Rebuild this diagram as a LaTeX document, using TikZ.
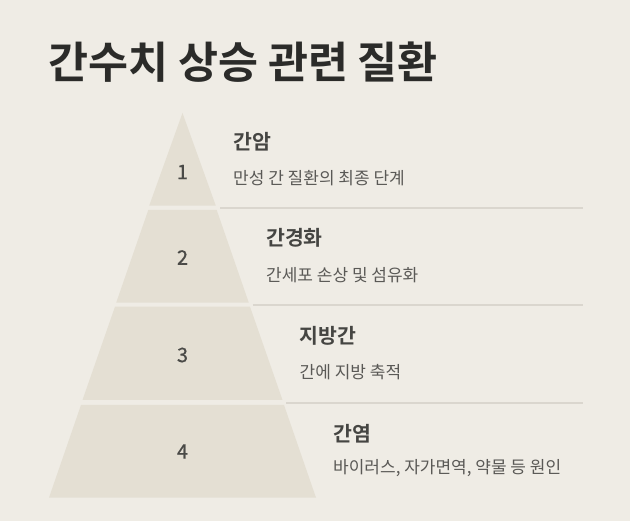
\documentclass[tikz,border=0pt]{standalone}
\usepackage{fontspec}
\setmainfont{Noto Sans CJK KR}[BoldFont={Noto Sans CJK KR Bold}]
\newfontfamily\numfont{Noto Sans CJK KR}[FakeBold=0.6]
\definecolor{bg}{HTML}{EFECE5}
\definecolor{tier}{HTML}{E4DFD3}
\definecolor{sep}{HTML}{DAD6CE}
\definecolor{titlecol}{HTML}{2B2B29}
\definecolor{headcol}{HTML}{454542}
\definecolor{subcol}{HTML}{5A5956}
\definecolor{numcol}{HTML}{4A4A47}
\tikzset{
  tierfill/.style={fill=tier},
  numlabel/.style={font=\fontsize{20}{23}\selectfont\numfont, text=numcol, inner sep=0pt},
  head/.style={font=\fontsize{20.5}{24}\selectfont\bfseries, text=headcol, anchor=west, inner sep=0pt},
  sub/.style={font=\fontsize{17}{20}\selectfont, text=subcol, anchor=west, inner sep=0pt},
  sepline/.style={draw=sep, line width=2pt},
}
\begin{document}
\begin{tikzpicture}[x=1pt,y=-1pt]
\fill[bg] (0,0) rectangle (630,521);
\useasboundingbox (0,0) rectangle (630,521);
% title
\node[font=\fontsize{43.5}{50}\selectfont\bfseries, text=titlecol, anchor=west, inner sep=0pt] (title) at (48,62) {간수치 상승 관련 질환};
% tiers
\def\cx{182.5}
\fill[tierfill] (\cx,113) -- (\cx+33.3,205.7) -- (\cx-33.3,205.7) -- cycle;
\fill[tierfill] (\cx-34.2,210) -- (\cx+34.2,210) -- (\cx+66.3,302.7) -- (\cx-66.3,302.7) -- cycle;
\fill[tierfill] (\cx-67.5,306.7) -- (\cx+67.5,306.7) -- (\cx+100,400) -- (\cx-100,400) -- cycle;
\fill[tierfill] (\cx-101.5,405) -- (\cx+101.5,405) -- (\cx+133.5,497.7) -- (\cx-133.5,497.7) -- cycle;
% numbers
\node[numlabel] (n1) at (\cx,172) {1};
\node[numlabel] (n2) at (\cx,257.5) {2};
\node[numlabel] (n3) at (\cx,355) {3};
\node[numlabel] (n4) at (\cx,451.5) {4};
% separators
\coordinate (s1a) at (220,207.7); \coordinate (s1b) at (582.7,207.7);
\coordinate (s2a) at (252.7,304.7); \coordinate (s2b) at (582.7,304.7);
\coordinate (s3a) at (286,402.7); \coordinate (s3b) at (582.7,402.7);
\draw[sepline] (s1a) -- (s1b);
\draw[sepline] (s2a) -- (s2b);
\draw[sepline] (s3a) -- (s3b);
% labels
\node[head] (h1) at (233,141.7) {간암};
\node[sub] (d1) at (233,178.3) {만성 간 질환의 최종 단계};
\node[head] (h2) at (266,238.3) {간경화};
\node[sub] (d2) at (266,275) {간세포 손상 및 섬유화};
\node[head] (h3) at (299.5,336) {지방간};
\node[sub] (d3) at (299.5,371.7) {간에 지방 축적};
\node[head] (h4) at (333,433.3) {간염};
\node[sub] (d4) at (333,468.3) {바이러스, 자가면역, 약물 등 원인};
\end{tikzpicture}
\end{document}
